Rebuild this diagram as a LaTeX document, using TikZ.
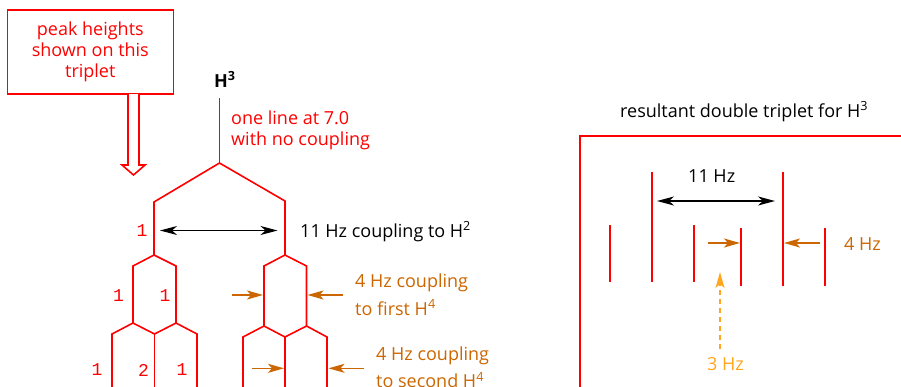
\documentclass[tikz,border=0pt]{standalone}
\usepackage{fontspec}
\setmainfont{Open Sans}
\newfontfamily\digitfont{Liberation Mono}
\usepackage{xcolor}
\definecolor{spred}{RGB}{255,0,0}
\definecolor{sporange}{RGB}{204,102,0}
\definecolor{splight}{RGB}{255,166,30}
\usetikzlibrary{arrows.meta}

\begin{document}
\begin{tikzpicture}[x=1pt, y=-1pt,
  tree/.style={draw=spred, line width=1.6pt},
  hzarrow/.style={{Stealth[length=17pt,width=9pt,inset=5pt]}-{Stealth[length=17pt,width=9pt,inset=5pt]}, line width=1.3pt, black},
  orangearrow/.style={-{Stealth[length=16pt,width=9pt,inset=4pt]}, sporange, line width=1.6pt},
  label/.style={inner sep=0pt, anchor=base west, align=left, font=\fontsize{18}{20.5}\selectfont},
  num/.style={inner sep=0pt, text=spred, font=\digitfont\fontsize{18}{18}\selectfont}]

  \useasboundingbox (0,0) rectangle (901,386);

  % Box with hollow arrow
  \node[draw=spred, line width=1.6pt, text=spred, align=center, minimum width=166pt,
        minimum height=84pt, font=\fontsize{18}{21}\selectfont] (peakbox) at (90.3,52)
       {peak heights\\shown on this\\triplet};
  \draw[spred, line width=1.6pt, fill=white]
       (128,94) -- (128,165) -- (122,165) -- (133.5,175) -- (145,165) -- (139,165) -- (139,94);

  % H3 and the single line
  \node[label, font=\fontsize{18}{20.5}\selectfont\bfseries] (hthree) at (214,87) {H\textsuperscript{3}};
  \node[label, text=spred] (oneline) at (231,145) {one line at 7.0\\with no coupling};
  \draw[tree] (219.5,98) -- (219.5,163);

  % 11 Hz split
  \draw[tree] (154,255) -- (154,202) -- (219.5,163) -- (285,201) -- (285,255);

  % left side: doublet then triplet
  \draw[tree] (133,323) -- (133,266) -- (154,255) -- (176,266) -- (176,323);
  \draw[tree] (112,390) -- (112,334) -- (133,323) -- (154.5,334) -- (176,323) -- (197,334) -- (197,390);
  \draw[tree] (154.5,334) -- (154.5,390);

  % right side: doublet then triplet
  \draw[tree] (264,326) -- (264,266) -- (285,255) -- (306.5,266) -- (306.5,326);
  \draw[tree] (243,390) -- (243,337) -- (264,326) -- (285,337) -- (306.5,326) -- (327,337) -- (327,390);
  \draw[tree] (285,337) -- (285,390);

  % peak heights
  \node[num] (na) at (142,231) {1};
  \node[num] (nb) at (118.5,296) {1};
  \node[num] (nc) at (165,296) {1};
  \node[num] (nd) at (97,370) {1};
  \node[num] (ne) at (143.5,370) {2};
  \node[num] (nf) at (182,370) {1};

  % 11 Hz coupling
  \coordinate (bigl) at (160,230.5);
  \coordinate (bigr) at (277.5,230.5);
  \draw[hzarrow] (bigl) -- (bigr);
  \node[label] (bigtxt) at (300,237) {11 Hz coupling to H\textsuperscript{2}};

  % 4 Hz to first H4
  \coordinate (fa) at (232,295);
  \coordinate (fb) at (263,295);
  \coordinate (fc) at (343,295);
  \coordinate (fd) at (307.5,295);
  \draw[orangearrow] (fa) -- (fb);
  \draw[orangearrow] (fc) -- (fd);
  \node[label, text=sporange, font=\fontsize{18}{27.5}\selectfont] (firsttxt) at (355,315)
       {4 Hz coupling\\to first H\textsuperscript{4}};

  % 4 Hz to second H4
  \coordinate (sa) at (252,368.3);
  \coordinate (sb) at (284,368.3);
  \coordinate (sc) at (364,368.3);
  \coordinate (sd) at (328.5,368.3);
  \draw[orangearrow] (sa) -- (sb);
  \draw[orangearrow] (sc) -- (sd);
  \node[label, text=sporange, font=\fontsize{18}{27.5}\selectfont] (secondtxt) at (376,387.5)
       {4 Hz coupling\\to second H\textsuperscript{4}};

  % Resultant double triplet
  \node[label] (restitle) at (620,117) {resultant double triplet for H\textsuperscript{3}};
  \draw[tree] (580,390) -- (580,136) -- (905,136);

  \draw[tree] (610,225) -- (610,282);
  \draw[tree] (652,172) -- (652,282);
  \draw[tree] (694,225) -- (694,282);
  \draw[tree] (741,228) -- (741,286);
  \draw[tree] (783,172) -- (783,286);
  \draw[tree] (825,228) -- (825,286);

  \coordinate (rl) at (657,201);
  \coordinate (rr) at (775,201);
  \draw[hzarrow] (rl) -- (rr);
  \node[label] (rtxt) at (688,182) {11 Hz};

  \coordinate (ra) at (708,243);
  \coordinate (rb) at (740,243);
  \coordinate (rc) at (820,243);
  \coordinate (rd) at (784,243);
  \draw[orangearrow] (ra) -- (rb);
  \draw[orangearrow] (rc) -- (rd);
  \node[label, text=sporange] (fourtxt) at (844,250) {4 Hz};

  \coordinate (ta) at (720,349);
  \coordinate (tb) at (720,272);
  \draw[-{Stealth[length=16pt,width=9pt,inset=4pt]}, splight, line width=1.6pt,
        dash pattern=on 5pt off 4pt] (ta) -- (tb);
  \node[label, text=splight] (threetxt) at (707,370) {3 Hz};
\end{tikzpicture}
\end{document}
